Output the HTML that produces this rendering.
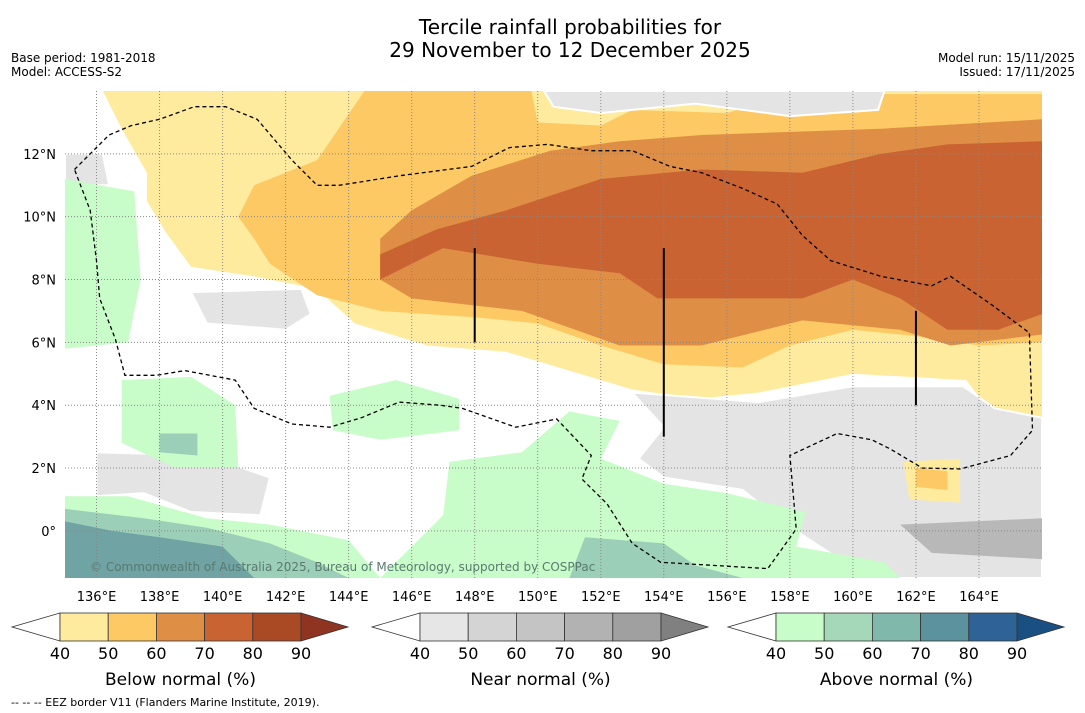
<!DOCTYPE html>
<html><head><meta charset="utf-8"><style>
body{margin:0;background:#fff;width:1085px;height:713px;overflow:hidden;font-family:"DejaVu Sans","Liberation Sans",sans-serif}
svg{position:absolute;left:0;top:0}
</style></head><body>
<svg id="c" width="1085" height="713" xmlns="http://www.w3.org/2000/svg">
<text x="570" y="34" text-anchor="middle" font-size="20">Tercile rainfall probabilities for</text>
<text x="570" y="57" text-anchor="middle" font-size="20">29 November to 12 December 2025</text>
<text x="11" y="62" font-size="12">Base period: 1981-2018</text>
<text x="11" y="76" font-size="12">Model: ACCESS-S2</text>
<text x="1075" y="62" font-size="12" text-anchor="end">Model run: 15/11/2025</text>
<text x="1075" y="76" font-size="12" text-anchor="end">Issued: 17/11/2025</text>
<text x="11" y="706" font-size="11">--  --  -- EEZ border V11 (Flanders Marine Institute, 2019).</text>
</svg>
<script>
// ---- data (lon, lat pairs) ----
const lonTicks=[136,138,140,142,144,146,148,150,152,154,156,158,160,162,164];
const latTicks=[12,10,8,6,4,2,0];
const latLabels=["12°N","10°N","8°N","6°N","4°N","2°N","0°"];
const cbLabels=[40,50,60,70,80,90];
const below40=[[136.2,14],[166,14],[166,3.2],[164.5,3.6],[163.6,4.8],[160,5],[157,4.4],[155,4.2],[153,4.5],[151,5.1],[149,5.7],[146.5,5.9],[144.2,6.6],[143,7.7],[141,8.1],[139,8.4],[138.2,9.5],[137.6,10.5],[137.6,11.4],[136.8,12.8]];
const below50=[[141,11],[143,11.8],[144.5,14],[149.8,14],[150,13],[152,12.9],[153,13.4],[156,13.3],[158,13.9],[166,13.9],[166,6],[164,5.9],[162,6.2],[160,6.4],[158,5.9],[156.5,5.2],[154,5.3],[152,5.9],[150,6.6],[148,6.8],[145,7],[143,7.5],[141.5,8.5],[141,9.3],[140.5,10]];
const below60=[[145,9.3],[146,10.2],[147.9,11.3],[150.4,12.1],[152.6,12.4],[155.2,12.6],[160.9,12.8],[166,13.1],[166,6.25],[163.1,5.9],[161.5,6.4],[158.4,6.7],[155.2,5.9],[152.6,5.9],[149.5,7],[146,7.4],[145,8]];
const below70=[[145,8.8],[146.8,9.6],[149,10.2],[152,11.2],[155.2,11.5],[158.4,11.4],[160.9,12],[163,12.3],[166,12.4],[166,6.9],[164.6,6.4],[163,6.4],[161.5,7.4],[160,8],[158.4,7.4],[155.2,7.4],[153.8,7.4],[152.6,8.2],[150,8.5],[147,9],[145,8]];
const near40a=[[150.2,14],[161,14],[160.8,13.4],[158,13.2],[155,13.6],[152,13.3],[150.5,13.5]];
const near40b=[[135,12],[136.2,12],[136.4,11],[135,11]];
const near40c=[[139,7.6],[142.5,7.7],[142.8,6.9],[142,6.4],[139.5,6.6]];
const near40d=[[153,4.4],[157,4.1],[160,4.6],[163.5,4.6],[164.5,3.9],[166,3.6],[166,-1.5],[160.5,-1.5],[158.5,-0.2],[157.5,0.5],[156.5,1.3],[154,1.7],[153.2,2.3],[154,3.3]];
const near40e=[[136,2.5],[139.5,2.4],[141.5,1.7],[141.2,0.5],[139,0.6],[137.5,1.2],[136,1.1]];
const near50=[[161.5,0.2],[166,0.4],[166,-0.9],[162.5,-0.7]];
const above40a=[[135,11.2],[137.2,10.8],[137.4,8],[137,6],[135,5.8]];
const above40b=[[136.8,4.8],[139,4.9],[140.4,4],[140.5,2],[138.5,2],[136.8,2.8]];
const above40c=[[143.4,4.3],[145.5,4.8],[147.5,4.2],[147.5,3.2],[145,2.9],[143.5,3.2]];
const above40d=[[147.2,2.2],[149.5,2.5],[151,3.8],[152.6,3.5],[152,2.3],[154,1.5],[156,1.2],[158.5,0.6],[158.2,-0.5],[161,-1],[161.5,-1.5],[145,-1.5],[147,0.5]];
const above40e=[[135,1.1],[137,1.1],[139.5,0.4],[141.5,0.2],[144,-0.3],[145,-1.5],[135,-1.5]];
const above50a=[[135,0.7],[137.5,0.4],[139.5,0.1],[141.5,-0.4],[143,-1],[144,-1.5],[135,-1.5]];
const above50b=[[151.5,-0.2],[154,-0.4],[155,-1.1],[156.5,-1.5],[151,-1.5]];
const above50c=[[138,3.1],[139.2,3.1],[139.2,2.4],[138,2.5]];
const above60=[[135,0.3],[136.5,0],[138,-0.2],[140,-0.5],[141,-1.5],[135,-1.5]];
const yellowIsle=[[161.6,2.2],[163.4,2.3],[163.4,0.9],[161.8,1]];
const orangeIsle=[[162,2],[163,1.9],[163,1.3],[162,1.4]];
const eez=[[135.3,11.5],[135.8,12.0],[136.4,12.6],[137.1,12.9],[138.0,13.1],[139.1,13.5],[140.1,13.5],[141.1,13.1],[142.2,11.8],[143.0,11.0],[143.7,11.0],[145.6,11.3],[147.9,11.6],[149.1,12.2],[150.3,12.3],[151.7,12.1],[153.0,12.1],[154.2,11.6],[155.2,11.4],[156.5,10.9],[157.6,10.4],[158.4,9.4],[159.3,8.6],[160.9,8.1],[162.5,7.8],[163.1,8.1],[164.4,7.2],[165.6,6.3],[165.7,3.2],[165.0,2.4],[163.4,1.97],[162.2,2.0],[161.2,2.6],[160.6,2.9],[159.5,3.1],[158.0,2.4],[158.2,0.06],[157.3,-1.2],[153.9,-1.0],[153.0,-0.4],[152.2,0.86],[151.4,1.65],[151.7,2.4],[150.6,3.56],[149.3,3.3],[147.6,3.9],[146.9,4.0],[145.6,4.1],[144.4,3.6],[143.4,3.3],[142.2,3.4],[141.0,3.9],[140.4,4.8],[138.8,5.1],[137.9,4.95],[136.9,4.95],[136.6,6.1],[136.1,7.4],[136.0,8.6],[135.8,10.2],[135.3,11.5]];
const sticks=[[148,9,6],[154,9,3],[162,7,4]];
// ---- axes ----
const X0=65,X1=1042,Y0=91,Y1=578,LON0=135,LON1=166,LAT0=14,LAT1=-1.5;
const sx=l=>X0+(l-LON0)/(LON1-LON0)*(X1-X0);
const sy=l=>Y0+(l-LAT0)/(LAT1-LAT0)*(Y1-Y0);
const NS='http://www.w3.org/2000/svg',svg=document.getElementById('c');
function mk(t,a,p){const e=document.createElementNS(NS,t);for(const k in a)e.setAttribute(k,a[k]);(p||svg).appendChild(e);return e;}
const clip=mk('clipPath',{id:'mc'});mk('rect',{x:X0,y:Y0,width:X1-X0,height:Y1-Y0},clip);
const g=mk('g',{'clip-path':'url(#mc)'});


const pts=a=>a.map(p=>sx(p[0]).toFixed(1)+','+sy(p[1]).toFixed(1)).join(' ');
const layers=[[below40,'#feeb9e'],[below50,'#fdc964'],[below60,'#df8e45'],[below70,'#c96332'],
[near40a,'#e4e4e4'],[near40b,'#e4e4e4'],[near40c,'#e4e4e4'],[near40d,'#e4e4e4'],[near40e,'#e4e4e4'],[near50,'#b8b8b8'],
[above40a,'#c8fcc8'],[above40b,'#c8fcc8'],[above40c,'#c8fcc8'],[above40d,'#c8fcc8'],[above40e,'#c8fcc8'],
[above50a,'#9ccfb8'],[above50b,'#9ccfb8'],[above50c,'#9ccfb8'],[above60,'#6fa3a4'],[yellowIsle,'#feeb9e'],[orangeIsle,'#fdc964']];
layers.forEach((L,i)=>{const e=mk('polygon',{points:pts(L[0]),fill:L[1],stroke:'#fff','stroke-width':i>=4&&i<=8?2:0},g);

});
lonTicks.forEach(l=>{const e=mk('line',{x1:sx(l),x2:sx(l),y1:Y0,y2:Y1,stroke:'#888','stroke-width':1,'stroke-dasharray':'1,2'},g);


const t=mk('text',{x:sx(l),y:601,'text-anchor':'middle','font-size':13});t.textContent=l+'°E';

});
latTicks.forEach((l,i)=>{const e=mk('line',{x1:X0,x2:X1,y1:sy(l),y2:sy(l),stroke:'#888','stroke-width':1,'stroke-dasharray':'1,2'},g);


const t=mk('text',{x:56,y:sy(l)+5,'text-anchor':'end','font-size':13});t.textContent=latLabels[i];

});
const ez=mk('polyline',{points:pts(eez),fill:'none',stroke:'#000','stroke-width':1.3,'stroke-dasharray':'4,3'},g);


sticks.forEach(s=>{const e=mk('line',{x1:sx(s[0]),x2:sx(s[0]),y1:sy(s[1]),y2:sy(s[2]),stroke:'#000','stroke-width':2},g);

});
const cp=mk('text',{x:90,y:571,'font-size':12,fill:'#5a7a70'},g);cp.textContent='© Commonwealth of Australia 2025, Bureau of Meteorology, supported by COSPPac';


// ---- colorbars ----
const bars=[[60,'Below normal (%)',['#feeb9e','#fdc964','#df8e45','#c96332','#a94a25'],'#8f3420','below-normal-colorbar'],
[420,'Near normal (%)',['#e6e6e6','#d4d4d4','#c4c4c4','#b2b2b2','#a0a0a0'],'#808080','near-normal-colorbar'],
[776,'Above normal (%)',['#c8fcc8','#a4d8b8','#80b8ac','#5b929e','#2f6398'],'#1a4f82','above-normal-colorbar']];
bars.forEach(b=>{const bg=mk('g',{});


const x=b[0],w=48.2,y=613,h=28;
mk('polygon',{points:`${x},${y} ${x-48},${y+h/2} ${x},${y+h}`,fill:'#fff',stroke:'#333','stroke-width':0.8},bg);
b[2].forEach((c,i)=>mk('rect',{x:x+i*w,y:y,width:w,height:h,fill:c,stroke:'#333','stroke-width':0.8},bg));
mk('polygon',{points:`${x+5*w},${y} ${x+5*w+47},${y+h/2} ${x+5*w},${y+h}`,fill:b[3],stroke:'#333','stroke-width':0.8},bg);
cbLabels.forEach((v,i)=>{const t=mk('text',{x:x+i*w,y:659,'text-anchor':'middle','font-size':16},bg);t.textContent=v;});
const t=mk('text',{x:x+2.5*w,y:685,'text-anchor':'middle','font-size':17},bg);t.textContent=b[1];});
</script>
</body></html>
